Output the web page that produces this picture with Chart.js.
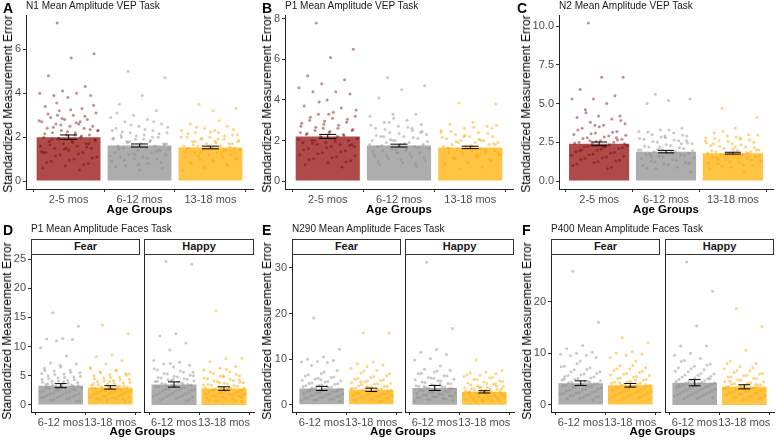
<!DOCTYPE html>
<html>
<head>
<meta charset="utf-8">
<script src="https://cdn.jsdelivr.net/npm/chart.js@4.4.0/dist/chart.umd.min.js"></script>
<style>
  body { margin: 0; width: 776px; height: 441px; background: #fff; position: relative; overflow: hidden;
         font-family: "Liberation Sans", Arial, sans-serif; }
  canvas { position: absolute; }
  .t { position: absolute; white-space: nowrap; line-height: 1; }
  .strip { position: absolute; box-sizing: border-box; border: 1px solid #333; background: #fff;
           text-align: center; font-weight: bold; font-size: 11px; line-height: 13px; color: #1a1a1a; }
</style>
</head>
<body>
<script>
// categories
const ageTop = ['2-5 mos', '6-12 mos', '13-18 mos'];
const ageBottom = ['6-12 mos', '13-18 mos'];
const emotions = ['Fear', 'Happy'];

// VEP task, N1
const n1Means = [2.0, 1.62, 1.53];
const n1Se = [0.1, 0.07, 0.06];
const n1_2to5 = [7.2,5.8,5.6,4.8,4.3,4.1,4.0,4.0,3.9,3.9,3.8,3.4,3.3,3.2,3.1,3.0,2.9,2.8,2.8,2.7,2.6,2.6,2.5,2.5,2.4,2.4,2.3,2.3,2.2,2.2,2.1,2.1,2.0,2.0,1.9,1.9,1.8,1.8,1.7,1.7,1.6,1.6,1.5,1.5,1.4,1.3,1.3,1.2,1.1,1.0,0.9,0.8,0.7,0.6,0.5,
  3.55,3.45,3.25,3.05,2.95,2.85,2.75,2.65,2.45,2.35,2.25,2.15,2.05,1.95,1.85,1.75,1.65,1.55,1.45,1.35,1.25,1.15,1.05,0.95,0.85,0.75,2.55,2.3,2.1,1.9,1.7,1.5,1.3,2.7,3.0];
const n1_6to12 = [5.0,4.7,3.9,3.5,3.2,3.0,2.9,2.8,2.7,2.6,2.5,2.4,2.3,2.2,2.2,2.1,2.0,2.0,1.9,1.9,1.8,1.8,1.7,1.7,1.6,1.6,1.6,1.5,1.5,1.5,1.4,1.4,1.3,1.3,1.2,1.2,1.1,1.1,1.0,1.0,0.9,0.8,0.7,0.6,0.5,
  3.1,2.7,2.55,2.45,2.35,2.25,2.15,2.05,1.95,1.85,1.75,1.65,1.55,1.45,1.35,1.25,1.15,1.05,0.95,0.85,0.75,0.65,2.0,1.8,1.7,1.9,2.1,1.4,1.2,2.3];
const n1_13to18 = [3.5,3.3,3.2,2.6,2.5,2.4,2.3,2.2,2.2,2.1,2.0,2.0,1.9,1.9,1.8,1.8,1.8,1.7,1.7,1.6,1.6,1.6,1.5,1.5,1.5,1.4,1.4,1.4,1.3,1.3,1.2,1.2,1.1,1.1,1.0,1.0,0.9,0.8,0.7,0.6,0.5,
  2.75,2.45,2.35,2.25,2.15,2.05,1.95,1.85,1.75,1.65,1.55,1.45,1.35,1.25,1.15,1.05,0.95,0.85,0.75,0.65,2.0,1.9,1.8,1.7,1.6,1.5,1.4,1.3,2.1,2.3];

// VEP task, P1
const p1vMeans = [2.2, 1.75, 1.66];
const p1vSe = [0.1, 0.07, 0.06];
const p1v_2to5 = [7.8,6.5,6.1,5.2,5.0,4.8,4.6,4.4,4.4,4.3,4.0,3.7,3.6,3.3,3.2,3.1,3.0,2.9,2.8,2.7,2.6,2.5,2.5,2.4,2.3,2.3,2.2,2.1,2.1,2.0,2.0,1.9,1.9,1.8,1.8,1.7,1.7,1.6,1.5,1.4,1.3,1.2,1.1,1.0,0.9,0.8,0.7,
  3.9,3.5,3.4,3.15,3.05,2.95,2.85,2.75,2.65,2.55,2.45,2.35,2.25,2.15,2.05,1.95,1.85,1.75,1.65,1.55,1.45,1.35,1.25,1.15,1.05,0.95,2.6,2.4,2.2,2.0,1.8,3.3];
const p1v_6to12 = [5.1,4.7,4.5,4.1,3.3,3.3,3.2,3.0,2.9,2.8,2.7,2.6,2.5,2.4,2.3,2.2,2.2,2.1,2.0,2.0,1.9,1.9,1.8,1.8,1.7,1.7,1.6,1.6,1.5,1.5,1.4,1.4,1.3,1.2,1.1,1.0,0.9,0.8,0.7,
  3.1,2.75,2.65,2.55,2.45,2.35,2.25,2.15,2.05,1.95,1.85,1.75,1.65,1.55,1.45,1.35,1.25,1.15,1.05,0.95,0.85,2.0,1.8,1.6,2.2,2.4,1.4,1.2,2.6,2.9];
const p1v_13to18 = [3.85,3.8,2.9,2.8,2.7,2.6,2.5,2.4,2.3,2.2,2.2,2.1,2.0,2.0,1.9,1.9,1.8,1.8,1.7,1.7,1.6,1.6,1.5,1.5,1.4,1.4,1.3,1.3,1.2,1.1,1.0,0.9,0.8,0.7,0.6,
  2.75,2.65,2.45,2.35,2.25,2.15,2.05,1.95,1.85,1.75,1.65,1.55,1.45,1.35,1.25,1.15,1.05,0.95,0.85,2.0,1.9,1.8,1.7,1.6,1.5,2.2,2.4,1.3,1.1,2.6];

// VEP task, N2
const n2Means = [2.4, 1.9, 1.8];
const n2Se = [0.12, 0.08, 0.06];
const n2_2to5 = [10.2,6.7,6.7,5.9,5.5,5.3,5.3,5.0,4.6,4.2,4.2,4.1,4.0,3.8,3.7,3.6,3.4,3.2,3.1,3.0,2.9,2.8,2.7,2.6,2.5,2.5,2.4,2.3,2.2,2.2,2.1,2.0,1.9,1.8,1.7,1.6,1.5,1.4,1.3,1.2,1.0,0.8,
  4.4,3.9,3.5,3.3,3.15,3.05,2.95,2.85,2.75,2.65,2.55,2.45,2.35,2.25,2.15,2.05,1.95,1.85,1.75,1.65,1.55,1.45,1.35,1.25,1.1,0.9,2.6,2.4,2.2,2.0,2.8,3.6];
const n2_6to12 = [5.6,5.3,5.2,5.0,3.4,3.3,3.2,3.1,3.0,2.9,2.8,2.7,2.6,2.5,2.4,2.3,2.2,2.1,2.0,2.0,1.9,1.9,1.8,1.8,1.7,1.7,1.6,1.5,1.4,1.3,1.2,1.1,1.0,0.9,0.8,0.6,
  3.3,3.15,2.95,2.85,2.75,2.65,2.55,2.45,2.35,2.25,2.15,2.05,1.95,1.85,1.75,1.65,1.55,1.45,1.35,1.25,1.15,1.05,0.85,2.4,2.2,2.0,1.8,1.6,2.6,2.9];
const n2_13to18 = [4.7,4.1,3.4,3.1,3.0,2.9,2.8,2.7,2.6,2.5,2.4,2.3,2.2,2.1,2.0,2.0,1.9,1.9,1.8,1.8,1.7,1.7,1.6,1.6,1.5,1.5,1.4,1.3,1.2,1.1,1.0,0.9,0.8,0.6,
  3.2,2.95,2.85,2.75,2.65,2.55,2.45,2.35,2.25,2.15,2.05,1.95,1.85,1.75,1.65,1.55,1.45,1.35,1.25,1.15,1.05,0.95,2.0,2.2,2.4,1.8,1.6,2.6,2.8,1.4];

// Faces task, P1
const p1fFearMeans = [3.3, 3.0];
const p1fFearSe = [0.35, 0.3];
const p1fHappyMeans = [3.5, 2.8];
const p1fHappySe = [0.45, 0.3];
const p1fFear_6to12 = [15.8,13.5,11.4,11.3,11.2,11.0,9.8,8.4,7.2,7.0,6.8,6.3,6.0,5.8,5.5,5.3,5.0,4.8,4.6,4.4,4.2,4.0,3.8,3.6,3.5,3.4,3.2,3.0,2.9,2.8,2.6,2.5,2.4,2.2,2.0,1.9,1.8,1.6,1.5,1.3,1.2,1.0,0.8,0.6,
  6.5,5.9,5.6,5.2,4.9,4.7,4.5,4.3,4.1,3.9,3.7,3.5,3.3,3.1,2.9,2.7,2.5,2.3,2.1,1.9,1.7,1.5,1.3,1.1,0.9,0.7,4.0,3.6,3.2,2.8,5.4];
const p1fFear_13to18 = [13.7,12.2,8.6,8.3,7.6,7.0,6.4,6.0,5.7,5.4,5.2,5.0,4.8,4.6,4.4,4.2,4.0,3.8,3.6,3.4,3.2,3.1,3.0,2.9,2.8,2.6,2.5,2.4,2.3,2.2,2.0,1.9,1.8,1.6,1.5,1.4,1.3,1.1,1.0,0.8,
  6.2,5.8,5.5,5.1,4.7,4.5,4.3,4.1,3.9,3.7,3.5,3.3,3.1,2.9,2.7,2.5,2.3,2.1,1.9,1.7,1.5,1.3,1.1,0.9,0.7,4.0,3.6,3.2,2.8,5.3];
const p1fHappy_6to12 = [24.6,24.1,12.2,11.8,10.6,9.4,7.6,7.3,7.0,6.8,6.5,6.0,5.6,5.3,5.0,4.8,4.6,4.4,4.2,4.0,3.8,3.6,3.4,3.3,3.1,3.0,2.8,2.6,2.5,2.4,2.2,2.0,1.8,1.6,1.5,1.3,1.1,0.9,0.7,
  7.1,6.2,5.8,5.4,5.1,4.9,4.7,4.5,4.3,4.1,3.9,3.7,3.5,3.3,3.1,2.9,2.7,2.5,2.3,2.1,1.9,1.7,1.5,1.3,1.1,0.9,4.4,4.0,3.6,3.2,5.6];
const p1fHappy_13to18 = [16.1,8.0,7.9,7.4,6.6,6.3,6.0,5.7,5.4,5.0,4.8,4.5,4.2,4.0,3.8,3.6,3.4,3.2,3.0,2.9,2.8,2.6,2.5,2.4,2.2,2.1,2.0,1.9,1.8,1.6,1.5,1.3,1.2,1.0,0.8,0.6,
  6.1,5.6,5.2,4.9,4.6,4.4,4.1,3.9,3.7,3.5,3.3,3.1,2.9,2.7,2.5,2.3,2.1,1.9,1.7,1.5,1.3,1.1,0.9,0.7,3.8,3.4,3.0,2.6,4.3,5.0];

// Faces task, N290
const n290FearMeans = [3.6, 3.3];
const n290FearSe = [0.45, 0.35];
const n290HappyMeans = [3.7, 2.85];
const n290HappySe = [0.55, 0.25];
const n290Fear_6to12 = [19.0,12.2,10.5,10.0,9.7,9.5,9.4,9.3,8.6,7.5,6.8,6.3,6.0,5.6,5.3,5.0,4.7,4.5,4.3,4.0,3.8,3.6,3.4,3.2,3.0,2.8,2.6,2.4,2.2,2.0,1.8,1.6,1.4,1.2,1.0,0.8,
  7.2,6.6,6.1,5.8,5.4,5.1,4.8,4.6,4.4,4.2,3.9,3.7,3.5,3.3,3.1,2.9,2.7,2.5,2.3,2.1,1.9,1.7,1.5,1.3,1.1,0.9,4.0,3.6,3.2,5.5];
const n290Fear_13to18 = [15.8,15.8,9.4,9.0,8.7,8.4,8.0,7.5,7.0,6.4,6.0,5.6,5.3,5.0,4.7,4.5,4.2,4.0,3.8,3.6,3.4,3.2,3.0,2.8,2.6,2.4,2.2,2.0,1.8,1.6,1.4,1.2,1.0,0.8,
  7.4,6.8,6.2,5.8,5.5,5.2,4.9,4.6,4.4,4.1,3.9,3.7,3.5,3.3,3.1,2.9,2.7,2.5,2.3,2.1,1.9,1.7,1.5,1.3,1.1,0.9,4.0,3.6,3.2,5.0];
const n290Happy_6to12 = [31.2,16.7,12.1,11.5,11.0,10.1,9.8,8.5,7.8,7.6,7.2,6.8,6.4,6.0,5.6,5.3,5.0,4.7,4.4,4.2,4.0,3.8,3.6,3.4,3.2,3.0,2.8,2.6,2.4,2.2,2.0,1.8,1.6,1.4,1.2,1.0,
  7.4,6.9,6.3,5.9,5.5,5.2,4.9,4.6,4.3,4.1,3.9,3.7,3.5,3.3,3.1,2.9,2.7,2.5,2.3,2.1,1.9,1.7,1.5,1.3,1.1,0.9,4.5,4.0,3.6,5.8];
const n290Happy_13to18 = [9.8,7.5,7.2,7.0,6.8,6.5,6.2,5.9,5.6,5.3,5.0,4.8,4.5,4.2,4.0,3.8,3.6,3.4,3.2,3.0,2.8,2.6,2.5,2.4,2.2,2.0,1.8,1.6,1.4,1.2,1.0,0.8,
  6.6,6.0,5.5,5.1,4.7,4.4,4.1,3.9,3.7,3.5,3.3,3.1,2.9,2.7,2.5,2.3,2.1,1.9,1.7,1.5,1.3,1.1,0.9,0.7,3.6,3.2,2.8,4.6,3.8,2.4];

// Faces task, P400
const p400FearMeans = [4.2, 3.8];
const p400FearSe = [0.45, 0.35];
const p400HappyMeans = [4.3, 3.5];
const p400HappySe = [0.6, 0.4];
const p400Fear_6to12 = [25.9,16.0,11.5,10.9,10.2,10.0,9.8,9.6,9.5,9.2,8.5,7.5,7.2,6.8,6.4,6.0,5.7,5.4,5.1,4.8,4.6,4.4,4.2,4.0,3.8,3.6,3.4,3.2,3.0,2.8,2.6,2.4,2.2,2.0,1.8,1.6,1.4,1.2,1.0,
  8.0,7.4,6.9,6.4,6.1,5.8,5.5,5.2,4.9,4.7,4.5,4.3,4.1,3.9,3.7,3.5,3.3,3.1,2.9,2.7,2.5,2.3,2.1,1.9,1.7,1.5,1.2,5.0,4.4,3.8];
const p400Fear_13to18 = [13.0,12.0,10.3,10.0,9.8,9.6,9.2,8.5,7.6,7.2,7.0,6.6,6.3,6.0,5.7,5.4,5.1,4.8,4.5,4.2,4.0,3.8,3.6,3.4,3.2,3.0,2.8,2.6,2.4,2.2,2.0,1.8,1.6,1.4,1.2,1.0,
  7.7,7.0,6.5,6.1,5.8,5.5,5.2,4.9,4.6,4.4,4.2,4.0,3.8,3.6,3.4,3.2,3.0,2.8,2.6,2.4,2.2,2.0,1.8,1.6,1.4,1.1,4.8,4.3,3.9,3.5];
const p400Happy_6to12 = [27.7,22.0,15.3,11.4,11.4,10.0,9.6,9.0,8.6,7.9,7.5,7.2,6.8,6.4,6.0,5.7,5.4,5.1,4.8,4.6,4.4,4.2,4.0,3.8,3.6,3.4,3.2,3.0,2.8,2.6,2.4,2.2,2.0,1.8,1.6,1.4,1.2,
  8.4,7.7,7.0,6.5,6.1,5.8,5.5,5.2,4.9,4.7,4.5,4.3,4.1,3.9,3.7,3.5,3.3,3.1,2.9,2.7,2.5,2.3,2.1,1.9,1.7,1.5,1.2,5.0,4.4,3.8];
const p400Happy_13to18 = [18.7,15.2,10.6,8.5,8.0,7.4,7.0,6.6,6.3,6.0,5.7,5.4,5.1,4.8,4.5,4.2,4.0,3.8,3.6,3.4,3.2,3.0,2.8,2.6,2.4,2.2,2.0,1.8,1.6,1.4,1.2,1.0,
  8.0,7.2,6.6,6.1,5.7,5.4,5.1,4.8,4.5,4.3,4.1,3.9,3.7,3.5,3.3,3.1,2.9,2.7,2.5,2.3,2.1,1.9,1.7,1.5,1.3,1.1,4.6,4.0,3.6,3.2];

// tick values
const n1Ticks = [0, 2, 4, 6];
const p1vTicks = [0, 2, 4, 6, 8];
const n2Ticks = [0, 2.5, 5, 7.5, 10];
const p1fTicks = [0, 5, 10, 15, 20, 25];
const n290Ticks = [0, 10, 20, 30];
const p400Ticks = [0, 10, 20];

const FONT = '"Liberation Sans", Arial, sans-serif';
const barFill = { '2-5 mos': '#AE4A4A', '6-12 mos': '#ADADAD', '13-18 mos': '#FFC444' };
const dotFill = { '2-5 mos': 'rgba(125,0,0,0.45)', '6-12 mos': 'rgba(135,135,135,0.45)', '13-18 mos': 'rgba(255,168,0,0.5)' };

function txt(s, x, y, css) {
  const d = document.createElement('div');
  d.className = 't';
  d.textContent = s;
  d.style.cssText = css;
  d.style.left = x + 'px';
  d.style.top = y + 'px';
  document.body.appendChild(d);
  return d;
}

// one plotting panel (or one facet)
function facet(p) {
  const cl = p.l - p.yw, ct = p.t - 10;
  const w = p.r + 4 - cl, h = p.b + 18 - ct;
  const cv = document.createElement('canvas');
  cv.width = w; cv.height = h;
  cv.style.left = cl + 'px'; cv.style.top = ct + 'px';
  cv.style.width = w + 'px'; cv.style.height = h + 'px';
  document.body.appendChild(cv);

  const cats = p.labels.map((_, i) => i + 1);
  const datasets = [{
    type: 'bar',
    order: 1,
    data: p.means.map((m, i) => ({ x: cats[i], y: m })),
    backgroundColor: p.labels.map(l => barFill[l]),
    barPercentage: 0.9,
    categoryPercentage: 1
  }];
  p.groups.forEach((vals, g) => {
    datasets.push({
      type: 'line',
      order: 0,
      showLine: false,
      pointRadius: 1.5,
      pointBorderWidth: 0,
      pointBackgroundColor: dotFill[p.labels[g]],
      data: vals.map((v, i) => ({ x: cats[g] + (((i + 0.5) * 0.618034) % 1 - 0.5) * 0.84, y: v }))
    });
  });

  const errBars = {
    id: 'errBars',
    afterDatasetsDraw(chart) {
      const { ctx, scales: { x, y } } = chart;
      ctx.save();
      ctx.strokeStyle = '#000';
      ctx.lineWidth = 1;
      p.means.forEach((m, i) => {
        const x0 = x.getPixelForValue(cats[i] - 0.12), x1 = x.getPixelForValue(cats[i] + 0.12);
        const xc = x.getPixelForValue(cats[i]);
        const yt = y.getPixelForValue(m + p.se[i]), yb = y.getPixelForValue(m - p.se[i]);
        ctx.beginPath();
        ctx.moveTo(x0, yt); ctx.lineTo(x1, yt);
        ctx.moveTo(x0, yb); ctx.lineTo(x1, yb);
        ctx.moveTo(xc, yt); ctx.lineTo(xc, yb);
        ctx.stroke();
      });
      ctx.restore();
    }
  };

  const tickFont = { family: FONT, size: 11 };
  new Chart(cv, {
    type: 'bar',
    data: { datasets },
    plugins: [errBars],
    options: {
      responsive: false,
      animation: false,
      layout: { padding: { top: 10, right: 4, left: 0, bottom: 0 } },
      plugins: { legend: { display: false }, tooltip: { enabled: false } },
      scales: {
        x: {
          type: 'linear', bounds: 'data', offset: false,
          min: 0.4, max: cats.length + 0.6,
          afterBuildTicks: s => { s.ticks = cats.map(v => ({ value: v })); },
          afterFit: s => { s.height = 18; },
          ticks: { autoSkip: false, maxRotation: 0, minRotation: 0, padding: 1, color: '#4D4D4D', font: tickFont,
                   callback: v => p.labels[Math.round(v) - 1] },
          grid: { display: true, drawOnChartArea: false, drawTicks: true, tickLength: 3, color: '#333' },
          border: { display: true, color: '#222', width: 1 }
        },
        y: {
          type: 'linear', bounds: 'data',
          min: p.yMin, max: p.yMax,
          afterBuildTicks: s => { s.ticks = p.yTicks.map(v => ({ value: v })); },
          afterFit: s => { s.width = p.yw; },
          ticks: { display: p.showY, padding: 2, color: '#4D4D4D', font: tickFont,
                   callback: v => p.decimals ? v.toFixed(p.decimals) : String(v) },
          grid: { display: p.showY, drawOnChartArea: false, drawTicks: true, tickLength: 3, color: '#333' },
          border: { display: true, color: '#222', width: 1 }
        }
      }
    }
  });
}

const letterCss = 'font-weight:bold;font-size:14px;color:#000;transform:translateY(-50%);';
const titleCss = 'font-size:10px;color:#1a1a1a;transform:translateY(-50%);';
const yTitleCss = 'font-size:12px;color:#000;transform:translate(-50%,-50%) rotate(-90deg);';
const xTitleCss = 'font-size:11.5px;font-weight:bold;color:#000;transform:translate(-50%,-50%);';
const titles = [];

// top row: VEP task
const topPanels = [
  { letter: 'A', title: 'N1 Mean Amplitude VEP Task', lx: 3, l: 26, r: 253, yw: 26, ytx: 7.5,
    means: n1Means, se: n1Se, groups: [n1_2to5, n1_6to12, n1_13to18], yMin: -0.36, yMax: 7.56, yTicks: n1Ticks },
  { letter: 'B', title: 'P1 Mean Amplitude VEP Task', lx: 262, l: 285, r: 513, yw: 26, ytx: 266.5,
    means: p1vMeans, se: p1vSe, groups: [p1v_2to5, p1v_6to12, p1v_13to18], yMin: -0.39, yMax: 8.19, yTicks: p1vTicks },
  { letter: 'C', title: 'N2 Mean Amplitude VEP Task', lx: 517, l: 559, r: 773, yw: 28, ytx: 526,
    means: n2Means, se: n2Se, groups: [n2_2to5, n2_6to12, n2_13to18], yMin: -0.51, yMax: 10.71, yTicks: n2Ticks, decimals: 1 }
];
topPanels.forEach(p => {
  facet(Object.assign({ t: 15, b: 189, labels: ageTop, showY: true }, p));
  txt(p.letter, p.lx, 8, letterCss);
  titles.push(txt(p.title, p.l, 6, titleCss));
  txt('Standardized Measurement Error', p.ytx, 104, yTitleCss);
  txt('Age Groups', (p.l + p.r) / 2, 210, xTitleCss);
});

// bottom row: Faces task, faceted by emotion
const bottomPanels = [
  { letter: 'D', title: 'P1 Mean Amplitude Faces Task', lx: 3, ytx: 7, facets: [[31, 140], [144, 254]],
    means: [p1fFearMeans, p1fHappyMeans], se: [p1fFearSe, p1fHappySe],
    groups: [[p1fFear_6to12, p1fFear_13to18], [p1fHappy_6to12, p1fHappy_13to18]],
    yMin: -1.22, yMax: 25.7, yTicks: p1fTicks },
  { letter: 'E', title: 'N290 Mean Amplitude Faces Task', lx: 262, ytx: 267, facets: [[292, 401], [405, 514]],
    means: [n290FearMeans, n290HappyMeans], se: [n290FearSe, n290HappySe],
    groups: [[n290Fear_6to12, n290Fear_13to18], [n290Happy_6to12, n290Happy_13to18]],
    yMin: -1.56, yMax: 32.8, yTicks: n290Ticks },
  { letter: 'F', title: 'P400 Mean Amplitude Faces Task', lx: 522, ytx: 527, facets: [[551, 660], [665, 774]],
    means: [p400FearMeans, p400HappyMeans], se: [p400FearSe, p400HappySe],
    groups: [[p400Fear_6to12, p400Fear_13to18], [p400Happy_6to12, p400Happy_13to18]],
    yMin: -1.38, yMax: 29.05, yTicks: p400Ticks }
];
bottomPanels.forEach(p => {
  p.facets.forEach(([l, r], k) => {
    facet({ l, r, t: 255, b: 412, yw: k === 0 ? 26 : 4, showY: k === 0, labels: ageBottom,
            means: p.means[k], se: p.se[k], groups: p.groups[k], yMin: p.yMin, yMax: p.yMax, yTicks: p.yTicks });
    const s = document.createElement('div');
    s.className = 'strip';
    s.textContent = emotions[k];
    s.style.left = l + 'px'; s.style.top = '239px';
    s.style.width = (r - l) + 'px'; s.style.height = '16px';
    document.body.appendChild(s);
  });
  const l = p.facets[0][0], r = p.facets[1][1];
  txt(p.letter, p.lx, 230, letterCss);
  titles.push(txt(p.title, l, 228.5, titleCss));
  txt('Standardized Measurement Error', p.ytx, 331, yTitleCss);
  txt('Age Groups', (l + r) / 2, 432, xTitleCss);
});

// panel titles: size so that the first title spans about 134px, as in the figure
const titleSize = 10 * 134 / titles[0].getBoundingClientRect().width;
titles.forEach(d => { d.style.fontSize = titleSize.toFixed(2) + 'px'; });
</script>
</body>
</html>
